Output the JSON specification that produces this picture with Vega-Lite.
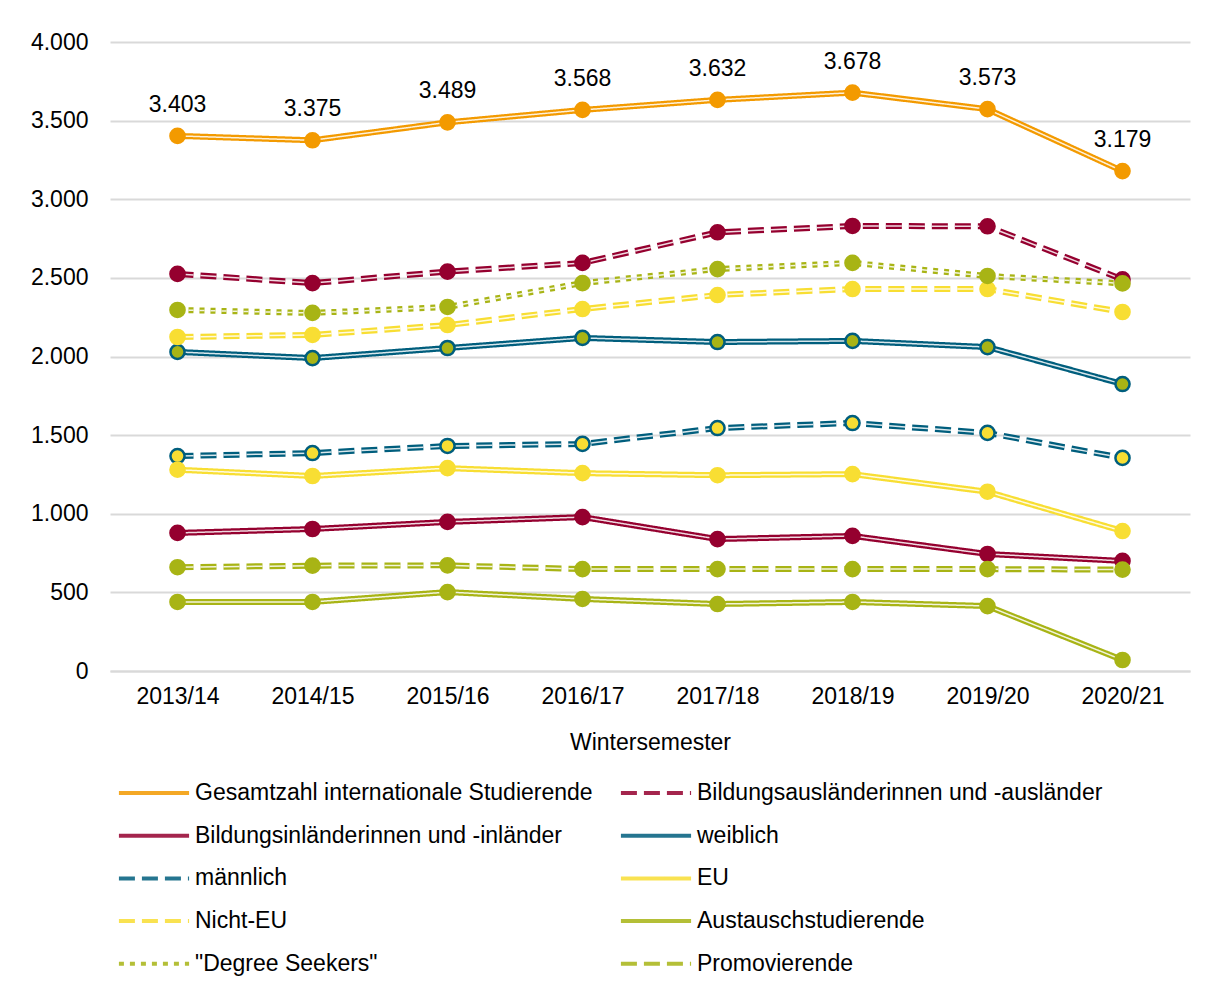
{
  "$schema": "https://vega.github.io/schema/vega-lite/v6.json",
  "width": 1080,
  "height": 629,
  "autosize": {"type": "none"},
  "padding": {"left": 110, "top": 42, "right": 16, "bottom": 315},
  "background": "white",
  "config": {
    "locale": {"number": {"decimal": ",", "thousands": ".", "grouping": [3], "currency": ["", " €"]}},
    "font": "Liberation Sans",
    "view": {"stroke": null}
  },
  "data": {"values": [
    {"semester": "2013/14", "series": "Gesamtzahl internationale Studierende", "value": 3403},
    {"semester": "2014/15", "series": "Gesamtzahl internationale Studierende", "value": 3375},
    {"semester": "2015/16", "series": "Gesamtzahl internationale Studierende", "value": 3489},
    {"semester": "2016/17", "series": "Gesamtzahl internationale Studierende", "value": 3568},
    {"semester": "2017/18", "series": "Gesamtzahl internationale Studierende", "value": 3632},
    {"semester": "2018/19", "series": "Gesamtzahl internationale Studierende", "value": 3678},
    {"semester": "2019/20", "series": "Gesamtzahl internationale Studierende", "value": 3573},
    {"semester": "2020/21", "series": "Gesamtzahl internationale Studierende", "value": 3179},
    {"semester": "2013/14", "series": "Bildungsausländerinnen und -ausländer", "value": 2525},
    {"semester": "2014/15", "series": "Bildungsausländerinnen und -ausländer", "value": 2467},
    {"semester": "2015/16", "series": "Bildungsausländerinnen und -ausländer", "value": 2540},
    {"semester": "2016/17", "series": "Bildungsausländerinnen und -ausländer", "value": 2595},
    {"semester": "2017/18", "series": "Bildungsausländerinnen und -ausländer", "value": 2790},
    {"semester": "2018/19", "series": "Bildungsausländerinnen und -ausländer", "value": 2830},
    {"semester": "2019/20", "series": "Bildungsausländerinnen und -ausländer", "value": 2828},
    {"semester": "2020/21", "series": "Bildungsausländerinnen und -ausländer", "value": 2490},
    {"semester": "2013/14", "series": "Bildungsinländerinnen und -inländer", "value": 878},
    {"semester": "2014/15", "series": "Bildungsinländerinnen und -inländer", "value": 903},
    {"semester": "2015/16", "series": "Bildungsinländerinnen und -inländer", "value": 948},
    {"semester": "2016/17", "series": "Bildungsinländerinnen und -inländer", "value": 979},
    {"semester": "2017/18", "series": "Bildungsinländerinnen und -inländer", "value": 839},
    {"semester": "2018/19", "series": "Bildungsinländerinnen und -inländer", "value": 859},
    {"semester": "2019/20", "series": "Bildungsinländerinnen und -inländer", "value": 744},
    {"semester": "2020/21", "series": "Bildungsinländerinnen und -inländer", "value": 700},
    {"semester": "2013/14", "series": "weiblich", "value": 2029},
    {"semester": "2014/15", "series": "weiblich", "value": 1990},
    {"semester": "2015/16", "series": "weiblich", "value": 2054},
    {"semester": "2016/17", "series": "weiblich", "value": 2118},
    {"semester": "2017/18", "series": "weiblich", "value": 2092},
    {"semester": "2018/19", "series": "weiblich", "value": 2099},
    {"semester": "2019/20", "series": "weiblich", "value": 2060},
    {"semester": "2020/21", "series": "weiblich", "value": 1825},
    {"semester": "2013/14", "series": "männlich", "value": 1367},
    {"semester": "2014/15", "series": "männlich", "value": 1386},
    {"semester": "2015/16", "series": "männlich", "value": 1431},
    {"semester": "2016/17", "series": "männlich", "value": 1444},
    {"semester": "2017/18", "series": "männlich", "value": 1545},
    {"semester": "2018/19", "series": "männlich", "value": 1577},
    {"semester": "2019/20", "series": "männlich", "value": 1514},
    {"semester": "2020/21", "series": "männlich", "value": 1355},
    {"semester": "2013/14", "series": "EU", "value": 1280},
    {"semester": "2014/15", "series": "EU", "value": 1240},
    {"semester": "2015/16", "series": "EU", "value": 1290},
    {"semester": "2016/17", "series": "EU", "value": 1258},
    {"semester": "2017/18", "series": "EU", "value": 1245},
    {"semester": "2018/19", "series": "EU", "value": 1252},
    {"semester": "2019/20", "series": "EU", "value": 1140},
    {"semester": "2020/21", "series": "EU", "value": 890},
    {"semester": "2013/14", "series": "Nicht-EU", "value": 2124},
    {"semester": "2014/15", "series": "Nicht-EU", "value": 2137},
    {"semester": "2015/16", "series": "Nicht-EU", "value": 2200},
    {"semester": "2016/17", "series": "Nicht-EU", "value": 2302},
    {"semester": "2017/18", "series": "Nicht-EU", "value": 2391},
    {"semester": "2018/19", "series": "Nicht-EU", "value": 2429},
    {"semester": "2019/20", "series": "Nicht-EU", "value": 2429},
    {"semester": "2020/21", "series": "Nicht-EU", "value": 2283},
    {"semester": "2013/14", "series": "Austauschstudierende", "value": 439},
    {"semester": "2014/15", "series": "Austauschstudierende", "value": 439},
    {"semester": "2015/16", "series": "Austauschstudierende", "value": 502},
    {"semester": "2016/17", "series": "Austauschstudierende", "value": 458},
    {"semester": "2017/18", "series": "Austauschstudierende", "value": 426},
    {"semester": "2018/19", "series": "Austauschstudierende", "value": 439},
    {"semester": "2019/20", "series": "Austauschstudierende", "value": 413},
    {"semester": "2020/21", "series": "Austauschstudierende", "value": 70},
    {"semester": "2013/14", "series": "\"Degree Seekers\"", "value": 2296},
    {"semester": "2014/15", "series": "\"Degree Seekers\"", "value": 2277},
    {"semester": "2015/16", "series": "\"Degree Seekers\"", "value": 2315},
    {"semester": "2016/17", "series": "\"Degree Seekers\"", "value": 2467},
    {"semester": "2017/18", "series": "\"Degree Seekers\"", "value": 2556},
    {"semester": "2018/19", "series": "\"Degree Seekers\"", "value": 2595},
    {"semester": "2019/20", "series": "\"Degree Seekers\"", "value": 2512},
    {"semester": "2020/21", "series": "\"Degree Seekers\"", "value": 2465},
    {"semester": "2013/14", "series": "Promovierende", "value": 660},
    {"semester": "2014/15", "series": "Promovierende", "value": 670},
    {"semester": "2015/16", "series": "Promovierende", "value": 672},
    {"semester": "2016/17", "series": "Promovierende", "value": 648},
    {"semester": "2017/18", "series": "Promovierende", "value": 648},
    {"semester": "2018/19", "series": "Promovierende", "value": 648},
    {"semester": "2019/20", "series": "Promovierende", "value": 648},
    {"semester": "2020/21", "series": "Promovierende", "value": 645}
  ]},
  "encoding": {
    "x": {
      "field": "semester",
      "type": "ordinal",
      "sort": null,
      "scale": {"type": "point", "padding": 0.5},
      "axis": {
        "title": "Wintersemester",
        "labelAngle": 0,
        "labelFontSize": 23,
        "labelColor": "#000000",
        "labelPadding": 14,
        "titleFontSize": 23,
        "titleFontWeight": "normal",
        "titleColor": "#000000",
        "titlePadding": 23,
        "domainColor": "#D9D9D9",
        "domainWidth": 2,
        "ticks": false,
        "grid": false
      }
    },
    "y": {
      "field": "value",
      "type": "quantitative",
      "scale": {"domain": [0, 4000], "nice": false},
      "axis": {
        "title": null,
        "values": [0, 500, 1000, 1500, 2000, 2500, 3000, 3500, 4000],
        "format": ",.0f",
        "labelFontSize": 23,
        "labelColor": "#000000",
        "labelPadding": 22,
        "domain": false,
        "ticks": false,
        "grid": true,
        "gridColor": "#D9D9D9",
        "gridWidth": 2
      }
    }
  },
  "layer": [
    {
      "mark": {"type": "line", "strokeWidth": 6},
      "encoding": {
        "color": {
          "field": "series",
          "type": "nominal",
          "scale": {
            "domain": ["Gesamtzahl internationale Studierende", "Bildungsausländerinnen und -ausländer", "Bildungsinländerinnen und -inländer", "weiblich", "männlich", "EU", "Nicht-EU", "Austauschstudierende", "\"Degree Seekers\"", "Promovierende"],
            "range": ["#F39A00", "#95002F", "#95002F", "#005E7D", "#005E7D", "#F8DE33", "#F8DE33", "#A8B415", "#A8B415", "#A8B415"]
          },
          "legend": {
            "orient": "none",
            "direction": "horizontal",
            "legendX": 30,
            "legendY": 737,
            "columns": 2,
            "padding": 0,
            "symbolType": "M-3,0H3",
            "symbolSize": 547,
            "symbolStrokeWidth": 4,
            "labelFontSize": 23,
            "labelColor": "#000000",
            "labelOffset": 27,
            "labelLimit": 800,
            "rowPadding": 16.7,
            "columnPadding": 19,
            "title": null
          }
        },
        "strokeDash": {
          "field": "series",
          "type": "nominal",
          "scale": {
            "domain": ["Gesamtzahl internationale Studierende", "Bildungsausländerinnen und -ausländer", "Bildungsinländerinnen und -inländer", "weiblich", "männlich", "EU", "Nicht-EU", "Austauschstudierende", "\"Degree Seekers\"", "Promovierende"],
            "range": [[1, 0], [16, 7], [1, 0], [1, 0], [16, 7], [1, 0], [16, 7], [1, 0], [5, 6], [16, 7]]
          },
          "legend": {
            "orient": "none",
            "direction": "horizontal",
            "legendX": 30,
            "legendY": 737,
            "columns": 2,
            "padding": 0,
            "symbolType": "M-3,0H3",
            "symbolSize": 547,
            "symbolStrokeWidth": 4,
            "labelFontSize": 23,
            "labelColor": "#000000",
            "labelOffset": 27,
            "labelLimit": 800,
            "rowPadding": 16.7,
            "columnPadding": 19,
            "title": null
          }
        }
      }
    },
    {
      "mark": {"type": "line", "strokeWidth": 1.5, "color": "#FFFFFF", "opacity": 0.85},
      "encoding": {
        "detail": {"field": "series", "type": "nominal"},
        "strokeDash": {"field": "series", "type": "nominal"}
      }
    },
    {
      "mark": {"type": "point", "filled": true, "size": 200, "strokeWidth": 2.5, "opacity": 1},
      "encoding": {
        "fill": {
          "field": "series",
          "type": "nominal",
          "legend": null,
          "scale": {
            "domain": ["Gesamtzahl internationale Studierende", "Bildungsausländerinnen und -ausländer", "Bildungsinländerinnen und -inländer", "weiblich", "männlich", "EU", "Nicht-EU", "Austauschstudierende", "\"Degree Seekers\"", "Promovierende"],
            "range": ["#F39A00", "#95002F", "#95002F", "#A8B415", "#F8DE33", "#F8DE33", "#F8DE33", "#A8B415", "#A8B415", "#A8B415"]
          }
        },
        "stroke": {
          "field": "series",
          "type": "nominal",
          "legend": null,
          "scale": {
            "domain": ["Gesamtzahl internationale Studierende", "Bildungsausländerinnen und -ausländer", "Bildungsinländerinnen und -inländer", "weiblich", "männlich", "EU", "Nicht-EU", "Austauschstudierende", "\"Degree Seekers\"", "Promovierende"],
            "range": ["#F39A00", "#95002F", "#95002F", "#005E7D", "#005E7D", "#F8DE33", "#F8DE33", "#A8B415", "#A8B415", "#A8B415"]
          }
        }
      }
    },
    {
      "transform": [{"filter": "datum.series === 'Gesamtzahl internationale Studierende'"}],
      "mark": {"type": "text", "baseline": "middle", "dy": -31, "fontSize": 23, "color": "#000000"},
      "encoding": {
        "text": {"field": "value", "type": "quantitative", "format": ",.0f"}
      }
    }
  ]
}
